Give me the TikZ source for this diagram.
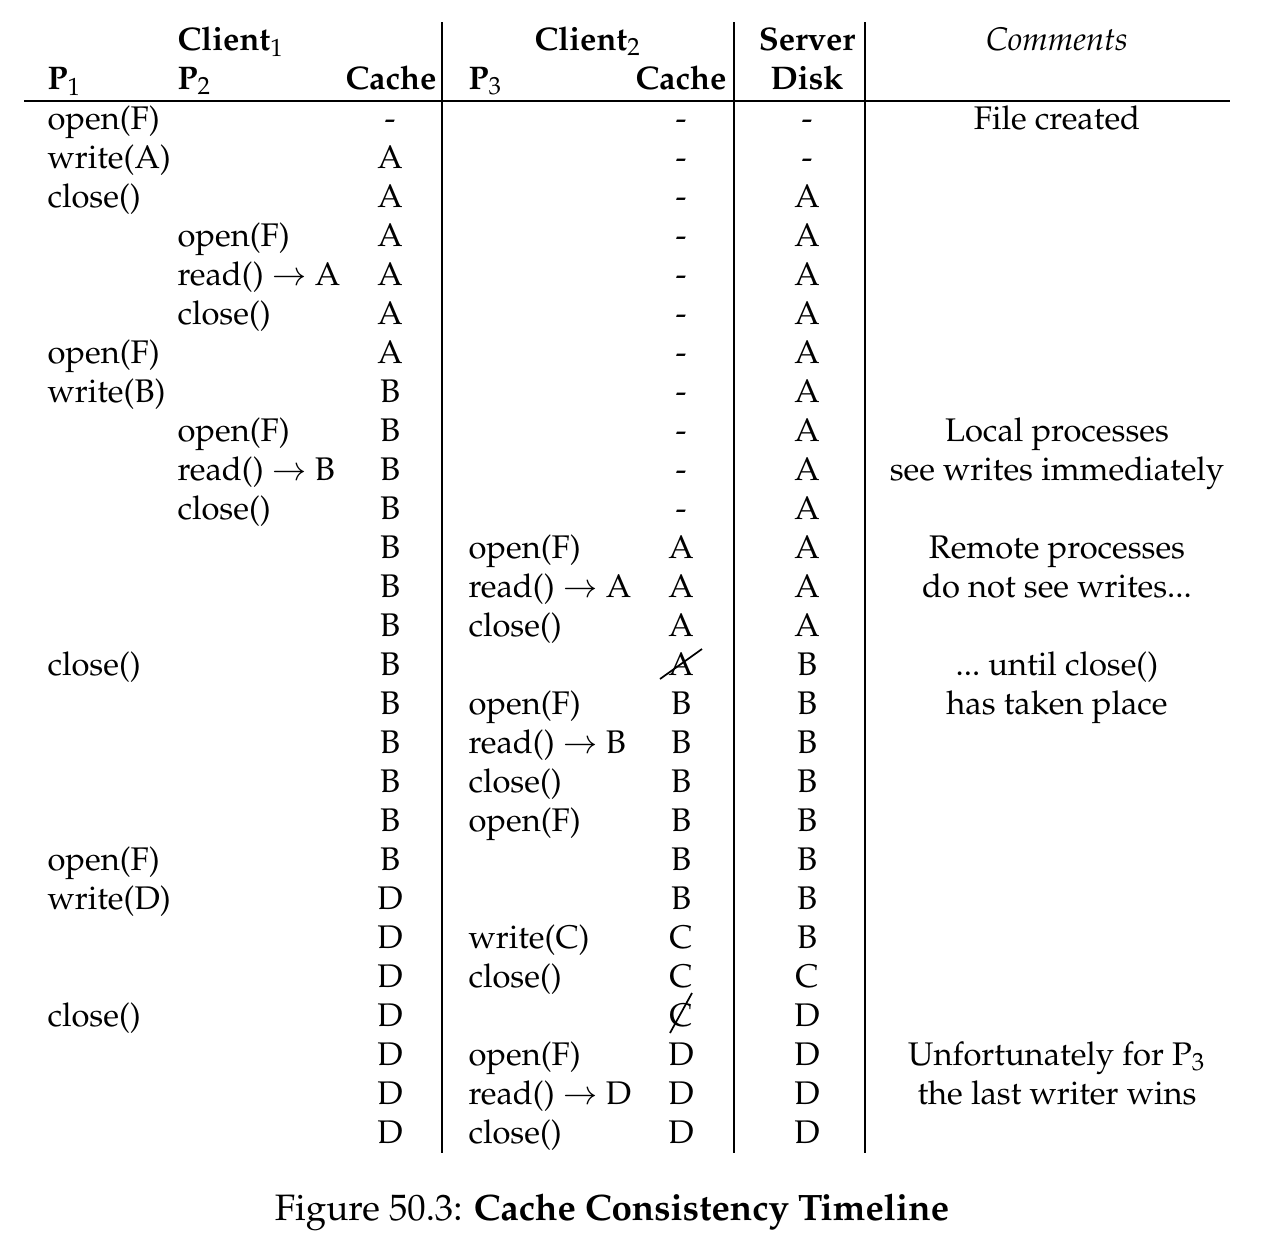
\documentclass[tikz,border=0pt]{standalone}
\usepackage[T1]{fontenc}
\usepackage{mathpazo}
\usepackage{tikz}
\usetikzlibrary{positioning}

\newcommand{\plaindots}{...}

\tikzset{
  opcell/.style={anchor=base west, inner sep=0pt},
  valcell/.style={anchor=base, inner sep=0pt},
  headcell/.style={anchor=base, inner sep=0pt, font=\bfseries},
  tabrule/.style={line width=0.5pt}
}

\begin{document}
\fontsize{11.4}{13.5}\selectfont
\begin{tikzpicture}[x=0.3485pt, y=-0.3485pt]
  \useasboundingbox (0,0) rectangle (1266,1244);
  % header
  \node[headcell] (client1) at (231,50) {Client$_1$};
  \node[headcell] (client2) at (588,50) {Client$_2$};
  \node[headcell] (server) at (807,50) {Server};
  \node[valcell, font=\itshape] (comments) at (1057,50) {Comments};
  \node[headcell, anchor=base west] (hp1) at (47,89) {P$_1$};
  \node[headcell, anchor=base west] (hp2) at (177,89) {P$_2$};
  \node[headcell, anchor=base east] (hcache1) at (437,89) {Cache};
  \node[headcell, anchor=base west] (hp3) at (468,89) {P$_3$};
  \node[headcell, anchor=base east] (hcache2) at (727,89) {Cache};
  \node[headcell] (hdisk) at (807,89) {Disk};
  % rules
  \coordinate (ruleL) at (24,101);
  \coordinate (ruleR) at (1230,101);
  \draw[tabrule] (ruleL) -- (ruleR);
  \foreach \x/\name in {442/a, 734/b, 865/c} {
    \coordinate (top\name) at (\x,22);
    \coordinate (bot\name) at (\x,1153);
    \draw[tabrule] (top\name) -- (bot\name);
  }
  % timeline rows
  \foreach [count=\i] \pa/\pb/\ca/\pc/\cb/\dk in {
    open(F)//-//-/-,
    write(A)//A//-/-,
    close()//A//-/A,
    /open(F)/A//-/A,
    /read() $\rightarrow$ A/A//-/A,
    /close()/A//-/A,
    open(F)//A//-/A,
    write(B)//B//-/A,
    /open(F)/B//-/A,
    /read() $\rightarrow$ B/B//-/A,
    /close()/B//-/A,
    //B/open(F)/A/A,
    //B/read() $\rightarrow$ A/A/A,
    //B/close()/A/A,
    close()//B//A/B,
    //B/open(F)/B/B,
    //B/read() $\rightarrow$ B/B/B,
    //B/close()/B/B,
    //B/open(F)/B/B,
    open(F)//B//B/B,
    write(D)//D//B/B,
    //D/write(C)/C/B,
    //D/close()/C/C,
    close()//D//C/D,
    //D/open(F)/D/D,
    //D/read() $\rightarrow$ D/D/D,
    //D/close()/D/D} {
    \pgfmathsetmacro{\yb}{129+39*(\i-1)}
    \node[opcell] (p1-\i) at (47,\yb) {\pa};
    \node[opcell] (p2-\i) at (177,\yb) {\pb};
    \node[valcell] (c1-\i) at (390,\yb) {\ca};
    \node[opcell] (p3-\i) at (468,\yb) {\pc};
    \node[valcell] (c2-\i) at (681,\yb) {\cb};
    \node[valcell] (disk-\i) at (807,\yb) {\dk};
  }
  % stale copies struck out
  \draw[line width=0.6pt] ([shift={(-21,4)}]c2-15.base) -- ([shift={(21,-26)}]c2-15.base);
  \draw[line width=0.6pt] ([shift={(-11,7)}]c2-24.base) -- ([shift={(11,-33)}]c2-24.base);
  % comments
  \foreach \row/\txt in {1/File created, 9/Local processes, 10/see writes immediately,
      12/Remote processes, 13/{do not see writes\plaindots}, 15/{\plaindots\ until close()},
      16/has taken place, 25/Unfortunately for P$_3$, 26/the last writer wins} {
    \pgfmathsetmacro{\yb}{129+39*(\row-1)}
    \node[valcell] (note-\row) at (1057,\yb) {\txt};
  }
  % caption
  \node[valcell, font=\fontsize{12.8}{15}\selectfont] (caption) at (612,1220)
    {Figure 50.3: \textbf{Cache Consistency Timeline}};
\end{tikzpicture}
\end{document}
